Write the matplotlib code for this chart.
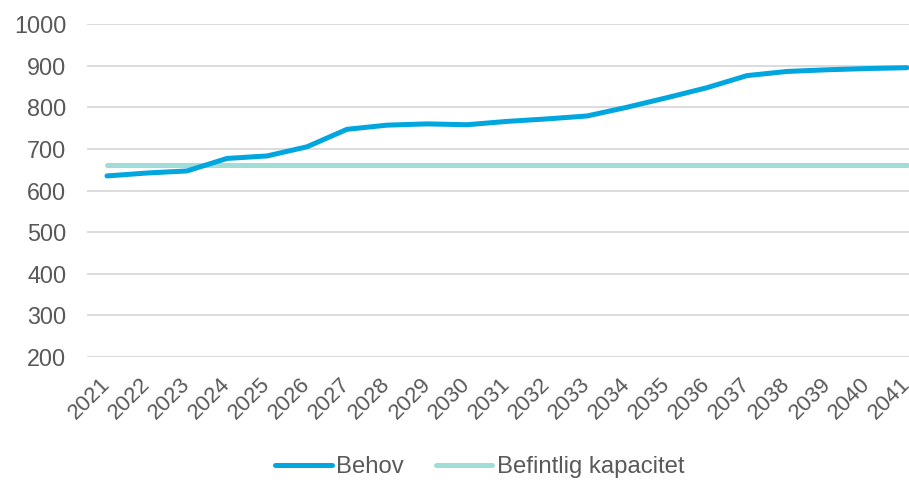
import matplotlib
matplotlib.use("Agg")
import matplotlib.pyplot as plt
import matplotlib.transforms as mtransforms

years = [str(y) for y in range(2021, 2042)]
behov = [635, 642, 647, 677, 683, 705, 747, 757, 760, 758, 766, 772, 779, 800,
         823, 847, 876, 886, 890, 893, 895]
befintlig = [662] * 21
yticks = [200, 300, 400, 500, 600, 700, 800, 900, 1000]

plt.rcParams['font.family'] = ['Liberation Sans', 'DejaVu Sans']
txt = '#595959'

fig = plt.figure(figsize=(9.09, 4.82), dpi=100)
ax = fig.add_axes([87/909, 1-357/482, 1-87/909, (357-24)/482])
x = list(range(len(years)))
ax.plot(x, behov, color='#00A6DE', lw=3.6, solid_capstyle='round', label='Behov', zorder=3)
ax.plot(x, befintlig, color='#A0DCD8', lw=3.6, solid_capstyle='round', label='Befintlig kapacitet', zorder=2)

ax.set_ylim(200, 1000)
ax.set_xlim(-0.5, 20.05)
ax.set_yticks(yticks)
ax.set_xticks(x)
ax.set_xticklabels(years, rotation=45, ha='right', va='top', rotation_mode='anchor')
ax.tick_params(axis='both', length=0, colors=txt)
ax.tick_params(axis='y', pad=15, labelsize=16.8)
ax.tick_params(axis='x', pad=12, labelsize=16)
off = mtransforms.ScaledTranslation(-7/100, 0, fig.dpi_scale_trans)
for lab in ax.get_xticklabels():
    lab.set_transform(lab.get_transform() + off)
ax.grid(axis='y', color='#D9D9D9', lw=1.3)
ax.set_axisbelow(True)
for s in ax.spines.values():
    s.set_visible(False)

leg = fig.legend(loc='center', bbox_to_anchor=(479.5/909, 1-467/482), ncol=2, frameon=False,
                 fontsize=17.2, handlelength=2.37, handletextpad=0.17, columnspacing=1.36,
                 labelcolor=txt)
fig.savefig('out.png', dpi=100)
